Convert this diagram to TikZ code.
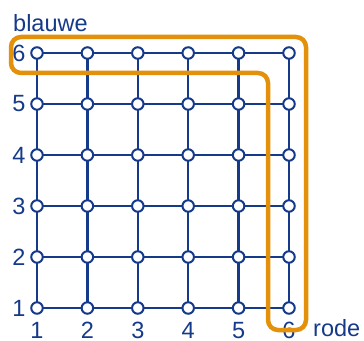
\documentclass[tikz,border=0pt]{standalone}
\usepackage{fontspec}
\setmainfont{Liberation Sans}
\usepackage{tikz}
\usetikzlibrary{positioning}
\definecolor{cNavy}{HTML}{153A8A}
\definecolor{cOrange}{HTML}{E3900B}

\begin{document}
\begin{tikzpicture}[x=1pt,y=1pt,
   knoop/.style={draw=cNavy,fill=white,circle,line width=2pt,minimum size=11.5pt,inner sep=0pt},
   rib/.style={cNavy,line width=2.4pt},
   lbl/.style={text=cNavy,inner sep=0pt,font=\fontsize{23.5}{26}\selectfont}]
  \useasboundingbox (0,0) rectangle (364,340);
  % grid nodes
  \foreach \i in {1,...,6}
    \foreach \j in {1,...,6}
      \coordinate (p-\i-\j) at ({37+50.4*(\i-1)},{32+51*(\j-1)});
  \foreach \i in {1,...,6} {
    \draw[rib] (p-\i-1) -- (p-\i-6);
    \draw[rib] (p-1-\i) -- (p-6-\i);
  }
  \foreach \i in {1,...,6}
    \foreach \j in {1,...,6}
      \node[knoop] (n-\i-\j) at (p-\i-\j) {};
  % axis numbers
  \foreach \i in {1,...,6} {
    \node[lbl] (x\i) at ({37+50.4*(\i-1)},9.5) {\i};
    \node[lbl] (y\i) at (19,{32+51*(\i-1)}) {\i};
  }
  \node[lbl,anchor=base west] (blauw) at (13,308) {blauwe};
  \node[lbl,anchor=base west] (rood) at (313,3.5) {rode};
  % orange route
  \draw[cOrange,line width=4.5pt,rounded corners=10pt]
    (11,303) -- (306,303) -- (306,10) -- (268,10) -- (268,267) -- (11,267) -- cycle;
\end{tikzpicture}
\end{document}
